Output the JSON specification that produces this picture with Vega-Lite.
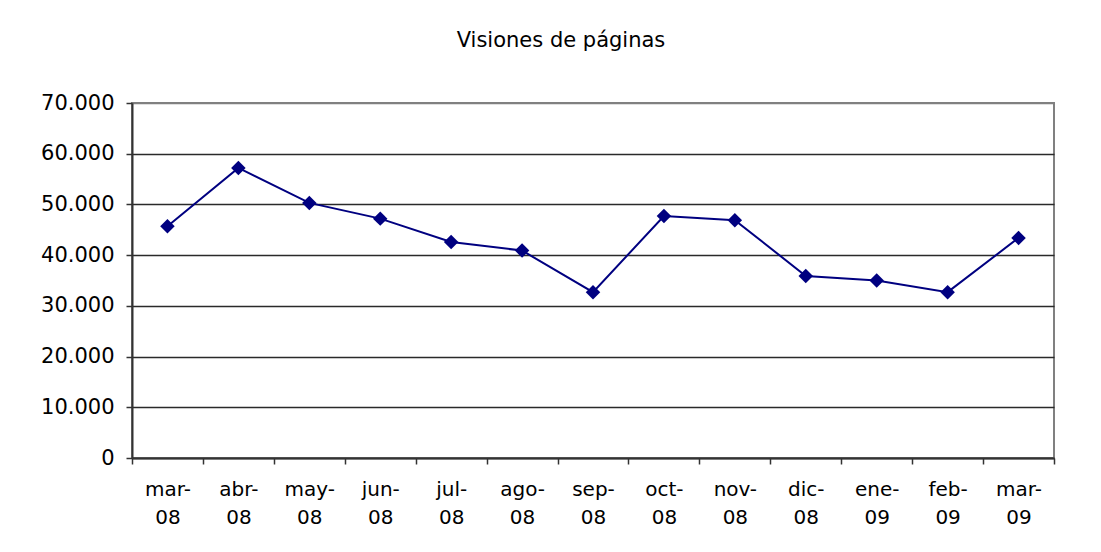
{
  "$schema": "https://vega.github.io/schema/vega-lite/v6.json",
  "width": 922,
  "height": 355,
  "autosize": "none",
  "padding": {"left": 132, "top": 103, "right": 47, "bottom": 94},
  "background": "white",
  "title": {
    "text": "Visiones de páginas",
    "font": "DejaVu Sans",
    "fontSize": 21,
    "fontWeight": "normal",
    "color": "#000000",
    "anchor": "middle",
    "dx": -32,
    "offset": 41
  },
  "data": {
    "values": [
      {"mes": "mar-08", "visiones": 45700},
      {"mes": "abr-08", "visiones": 57200},
      {"mes": "may-08", "visiones": 50300},
      {"mes": "jun-08", "visiones": 47200},
      {"mes": "jul-08", "visiones": 42600},
      {"mes": "ago-08", "visiones": 40900},
      {"mes": "sep-08", "visiones": 32700},
      {"mes": "oct-08", "visiones": 47700},
      {"mes": "nov-08", "visiones": 46900},
      {"mes": "dic-08", "visiones": 35900},
      {"mes": "ene-09", "visiones": 35000},
      {"mes": "feb-09", "visiones": 32700},
      {"mes": "mar-09", "visiones": 43400}
    ]
  },
  "encoding": {
    "x": {
      "field": "mes",
      "type": "nominal",
      "sort": null,
      "scale": {"type": "band", "paddingInner": 0, "paddingOuter": 0},
      "axis": {
        "title": null,
        "labelAngle": 0,
        "labelExpr": "length(datum.label + '') > 3 && indexof(datum.label + '', '-') > 0 ? [split(datum.label, '-')[0] + '-', split(datum.label, '-')[1]] : ''",
        "labelFont": "DejaVu Sans",
        "labelFontSize": 20,
        "labelLineHeight": 28,
        "labelColor": "#000000",
        "labelPadding": 15,
        "labelOverlap": false,
        "tickBand": "extent",
        "tickSize": 6,
        "tickColor": "#333333",
        "tickWidth": 1.5,
        "domainColor": "#333333",
        "domainWidth": 2,
        "grid": false
      }
    },
    "y": {
      "field": "visiones",
      "type": "quantitative",
      "scale": {"domain": [0, 70000], "nice": false},
      "axis": {
        "title": null,
        "values": [0, 10000, 20000, 30000, 40000, 50000, 60000, 70000],
        "labelExpr": "replace(format(datum.value, ','), ',', '.')",
        "labelFont": "DejaVu Sans",
        "labelFontSize": 21,
        "labelColor": "#000000",
        "labelPadding": 12,
        "tickSize": 6,
        "tickColor": "#333333",
        "tickWidth": 1.5,
        "domainColor": "#333333",
        "domainWidth": 2,
        "grid": true,
        "gridColor": {"condition": {"test": "datum.value == 70000", "value": "#808080"}, "value": "#2a2a2a"},
        "gridWidth": 1.3
      }
    }
  },
  "layer": [
    {"mark": {"type": "line", "color": "#000080", "strokeWidth": 2}},
    {"mark": {"type": "point", "shape": "diamond", "filled": true, "color": "#000080", "size": 210, "opacity": 1}}
  ],
  "config": {
    "view": {"stroke": "#808080", "strokeWidth": 2}
  }
}
